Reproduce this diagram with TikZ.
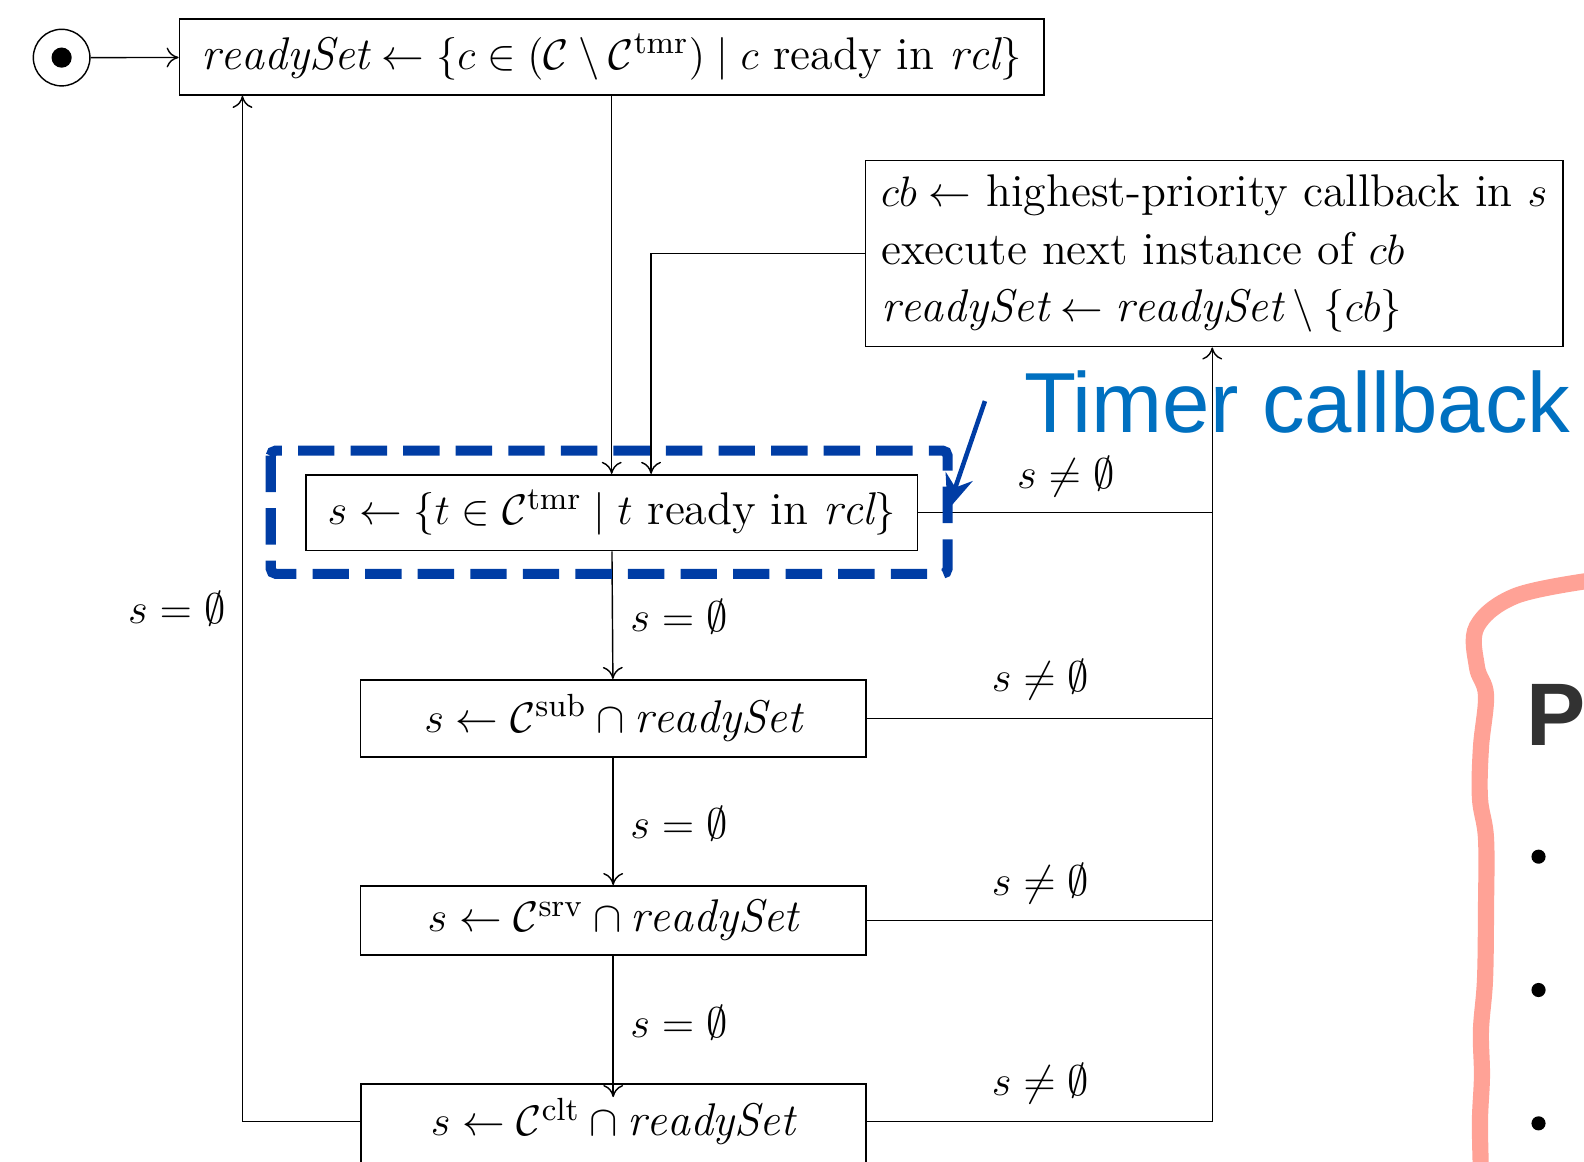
\documentclass[tikz,border=0pt]{standalone}
\usepackage{amsmath}
\usepackage{amssymb}
\usepackage{fontspec}
\newfontfamily\slidefont{Liberation Sans}
\usetikzlibrary{positioning, arrows.meta, calc}
\definecolor{timerblue}{RGB}{0,112,192}
\definecolor{markblue}{RGB}{0,61,165}
\definecolor{bracered}{RGB}{255,162,150}
\definecolor{slidegray}{RGB}{50,50,50}

\begin{document}
\begin{tikzpicture}[
    x=0.01cm, y=-0.01cm,
    font=\fontsize{12.9}{16.2}\selectfont,
    stepbox/.style={rectangle, draw, line width=0.5pt, inner sep=0pt, align=center},
    arr/.style={-{To[length=3.4pt, width=5.6pt]}},
    guard/.style={inner sep=0pt}
]
    \useasboundingbox (0,0) rectangle (1568,1150);

    % start state
    \node [circle, draw, minimum size=0.56cm, inner sep=0pt] (init) at (61,57) {};
    \fill (init) circle (10);

    % boxes
    \node [stepbox, minimum width=8.55cm, minimum height=0.75cm] (ready) at (605.5,56.5)
        {$\mathit{readySet} \leftarrow \{c \in (\mathcal{C} \setminus \mathcal{C}^{\mathrm{tmr}}) \mid c \text{ ready in } \mathit{rcl}\}$};
    \node [stepbox, align=left, minimum width=6.9cm, minimum height=1.84cm] (exec) at (1202,251)
        {$cb \leftarrow$ highest-priority callback in $s$\\
         execute next instance of $cb$\\
         $\mathit{readySet} \leftarrow \mathit{readySet} \setminus \{cb\}$};
    \node [stepbox, minimum width=6.05cm, minimum height=0.75cm] (tmr) at (605.5,507.5)
        {$s \leftarrow \{t \in \mathcal{C}^{\mathrm{tmr}} \mid t \text{ ready in } \mathit{rcl}\}$};
    \node [stepbox, minimum width=5.0cm, minimum height=0.76cm] (sub) at (607,711)
        {$s \leftarrow \mathcal{C}^{\mathrm{sub}} \cap \mathit{readySet}$};
    \node [stepbox, minimum width=5.0cm, minimum height=0.68cm] (srv) at (607,911)
        {$s \leftarrow \mathcal{C}^{\mathrm{srv}} \cap \mathit{readySet}$};
    \node [guard, minimum width=5.0cm] (clt) at (607,1110)
        {$s \leftarrow \mathcal{C}^{\mathrm{clt}} \cap \mathit{readySet}$};
    \draw [line width=0.5pt] (357,1073) rectangle (857,1170);

    \coordinate (bus) at (1200,1110);
    \coordinate (loop) at (240,1110);

    % connectors
    \draw [arr] (init) -- (ready);
    \draw [arr] (ready) -- (tmr);
    \draw [arr] (exec.west) -| ($(tmr.north)+(39,0)$);
    \draw [arr] (tmr) -- (sub);
    \draw [arr] (sub) -- (srv);
    \draw [arr] (srv) -- (clt.north);
    \draw [arr] (357,1110) -| (ready.south -| loop);
    \draw (tmr.east) -- (tmr.east -| bus);
    \draw (sub.east) -- (sub.east -| bus);
    \draw (srv.east) -- (srv.east -| bus);
    \draw [arr] (857,1110) -- (bus) -- (exec.south -| bus);

    % guards
    \node [guard] (g0) at (175,603) {$s = \emptyset$};
    \node [guard] (g1) at (672,610) {$s = \emptyset$};
    \node [guard] (g2) at (672,815) {$s = \emptyset$};
    \node [guard] (g3) at (672,1012) {$s = \emptyset$};
    \node [guard] (n1) at (1055,472) {$s \neq \emptyset$};
    \node [guard] (n2) at (1030,673) {$s \neq \emptyset$};
    \node [guard] (n3) at (1030,875) {$s \neq \emptyset$};
    \node [guard] (n4) at (1030,1073) {$s \neq \emptyset$};

    % highlight
    \draw [markblue, line width=0.1cm, dash pattern=on 0.36cm off 0.16cm, rounded corners=0.05cm]
        (268,446) rectangle (938,568);
    \node [font=\slidefont\fontsize{24}{28}\selectfont, text=timerblue, anchor=base west, inner sep=0pt] (tlabel) at (1013,428) {Timer callback};
    \coordinate (ttip) at (975,397);
    \draw [markblue, line width=0.045cm, -{Stealth[length=10pt, width=8pt]}] (ttip) -- (938,505);

    % cut-off panel
    \draw [bracered, line width=0.16cm, line cap=round] plot [smooth, tension=0.6] coordinates
        {(1572,575) (1500,590) (1462,620) (1462,660) (1471,688) (1466,740) (1465,790) (1471,830)
         (1471,900) (1470,970) (1466,1020) (1467,1065) (1465,1110) (1466,1160)};
    \node [font=\slidefont\bfseries\fontsize{25}{30}\selectfont, text=slidegray, anchor=base west, inner sep=0pt] (ptitle) at (1510,738) {P};
    \foreach \y in {848, 980, 1112}
        \fill (1523,\y) circle (7);
\end{tikzpicture}
\end{document}
